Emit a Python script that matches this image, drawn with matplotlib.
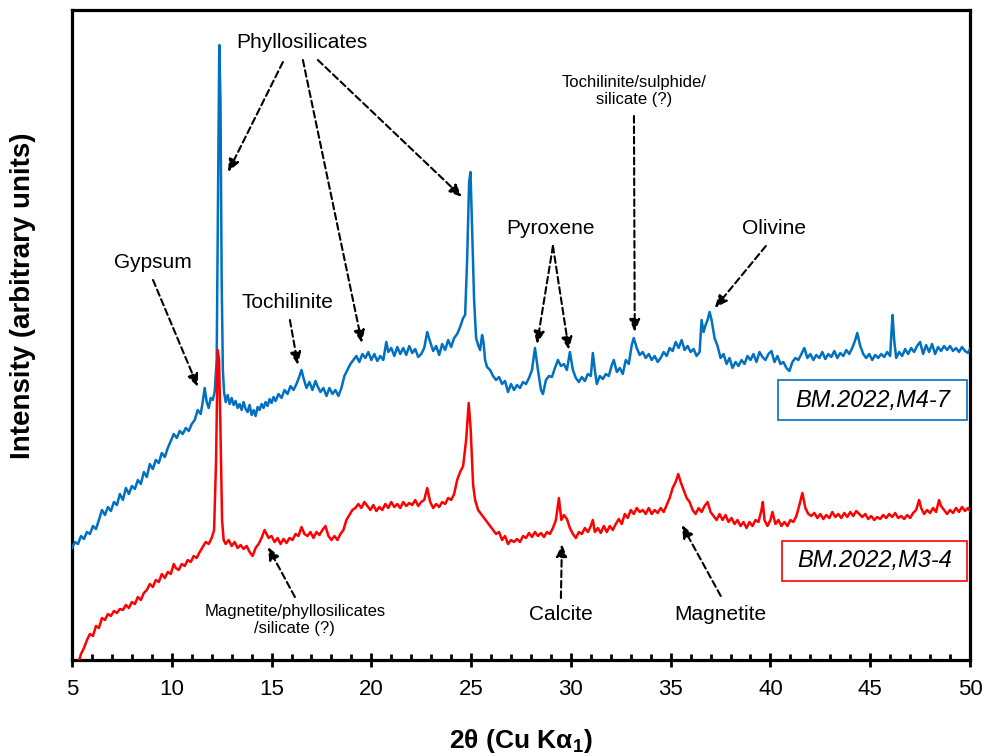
import matplotlib
matplotlib.use('Agg')
import matplotlib.pyplot as plt
from matplotlib.patches import Rectangle
from matplotlib.ticker import MultipleLocator

plt.rcParams['font.family'] = ['Liberation Sans', 'DejaVu Sans']
plt.rcParams['mathtext.fontset'] = 'custom'
plt.rcParams['mathtext.rm'] = 'Liberation Sans'
plt.rcParams['mathtext.bf'] = 'Liberation Sans:bold'

# ── data (intensity in arbitrary units) ──────────────────────────────────────
blue_theta = [
    5.00, 5.15, 5.30, 5.45, 5.60, 5.75, 5.90, 6.05, 6.20, 6.35,
    6.50, 6.65, 6.80, 6.95, 7.10, 7.25, 7.40, 7.55, 7.70, 7.85,
    8.00, 8.15, 8.30, 8.45, 8.60, 8.75, 8.90, 9.05, 9.20, 9.35,
    9.50, 9.65, 9.80, 9.95, 10.10, 10.25, 10.40, 10.55, 10.70, 10.85,
    11.00, 11.15, 11.30, 11.45, 11.55, 11.65, 11.75, 11.85, 11.95, 12.05,
    12.15, 12.25, 12.32, 12.38, 12.44, 12.50, 12.56, 12.62, 12.70, 12.80,
    12.90, 13.00, 13.10, 13.20, 13.30, 13.40, 13.50, 13.60, 13.70, 13.80,
    13.90, 14.00, 14.10, 14.20, 14.30, 14.40, 14.50, 14.60, 14.70, 14.80,
    14.90, 15.00, 15.10, 15.20, 15.35, 15.50, 15.65, 15.80, 15.95, 16.10,
    16.25, 16.40, 16.50, 16.60, 16.75, 16.90, 17.05, 17.20, 17.30, 17.45,
    17.60, 17.75, 17.90, 18.05, 18.20, 18.35, 18.50, 18.65, 18.80, 18.95,
    19.10, 19.25, 19.40, 19.55, 19.70, 19.85, 20.00, 20.15, 20.30, 20.45,
    20.60, 20.75, 20.85, 21.00, 21.15, 21.30, 21.45, 21.60, 21.75, 21.90,
    22.05, 22.20, 22.35, 22.50, 22.65, 22.80, 22.95, 23.10, 23.25, 23.40,
    23.55, 23.70, 23.85, 24.00, 24.15, 24.30, 24.45, 24.60, 24.70, 24.80,
    24.90, 24.97, 25.05, 25.15, 25.25, 25.35, 25.45, 25.55, 25.62, 25.70,
    25.80, 25.95, 26.10, 26.25, 26.40, 26.55, 26.70, 26.85, 27.00, 27.15,
    27.30, 27.45, 27.60, 27.75, 27.90, 28.05, 28.20, 28.35, 28.50, 28.60,
    28.75, 28.90, 29.05, 29.20, 29.35, 29.50, 29.65, 29.80, 29.95, 30.10,
    30.25, 30.40, 30.55, 30.70, 30.85, 31.00, 31.10, 31.20, 31.30, 31.45,
    31.60, 31.75, 31.90, 32.05, 32.15, 32.30, 32.45, 32.60, 32.75, 32.90,
    33.05, 33.15, 33.30, 33.45, 33.60, 33.75, 33.90, 34.05, 34.20, 34.35,
    34.50, 34.65, 34.80, 34.95, 35.10, 35.25, 35.40, 35.55, 35.70, 35.85,
    36.00, 36.15, 36.30, 36.45, 36.55, 36.65, 36.75, 36.85, 36.95, 37.05,
    37.20, 37.35, 37.50, 37.65, 37.80, 37.95, 38.10, 38.25, 38.40, 38.55,
    38.70, 38.85, 39.00, 39.15, 39.30, 39.45, 39.60, 39.75, 39.90, 40.05,
    40.20, 40.35, 40.50, 40.65, 40.80, 40.95, 41.10, 41.25, 41.40, 41.55,
    41.70, 41.85, 42.00, 42.15, 42.30, 42.45, 42.60, 42.75, 42.90, 43.05,
    43.20, 43.35, 43.50, 43.65, 43.80, 43.95, 44.10, 44.25, 44.35, 44.50,
    44.65, 44.80, 44.95, 45.10, 45.25, 45.40, 45.55, 45.70, 45.85, 46.00,
    46.07, 46.12, 46.20, 46.30, 46.45, 46.60, 46.75, 46.90, 47.05, 47.20,
    47.35, 47.50, 47.65, 47.80, 47.95, 48.10, 48.25, 48.40, 48.55, 48.70,
    48.85, 49.00, 49.15, 49.30, 49.45, 49.60, 49.75, 49.90, 50.00,
]
blue_int = [
    112, 118, 116, 124, 121, 128, 126, 134, 131, 140,
    150, 145, 153, 149, 158, 155, 166, 160, 172, 166,
    174, 171, 180, 176, 188, 183, 196, 191, 200, 197,
    207, 203, 212, 219, 226, 222, 229, 226, 232, 229,
    236, 240, 250, 246, 258, 272, 258, 252, 262, 260,
    268, 300, 470, 615, 560, 380, 290, 268, 258, 265,
    256, 262, 255, 259, 252, 256, 250, 258, 251, 248,
    255, 245, 250, 244, 253, 250, 256, 252, 258, 254,
    261, 257, 263, 259, 266, 262, 270, 266, 274, 270,
    276, 284, 290, 282, 272, 278, 270, 279, 274, 268,
    272, 264, 272, 266, 270, 264, 272, 284, 290, 296,
    300, 304, 298, 306, 302, 308, 300, 306, 299, 304,
    300, 318, 308, 312, 304, 313, 306, 312, 305, 314,
    307, 311, 303, 306, 312, 328, 318, 309, 314, 305,
    316, 310, 320, 313, 322, 326, 333, 342, 345, 400,
    478, 488, 430, 360, 322, 315, 310, 325, 318, 300,
    293, 290, 284, 280, 283, 276, 279, 268, 276, 270,
    275, 272, 278, 276, 282, 290, 312, 290, 270, 266,
    280, 284, 283, 292, 300, 294, 296, 290, 308, 290,
    282, 278, 283, 279, 286, 284, 307, 290, 276, 284,
    281, 286, 284, 295, 300, 288, 292, 286, 300, 296,
    315, 322, 312, 305, 308, 302, 306, 300, 304, 298,
    302, 308, 304, 312, 309, 318, 312, 320, 310, 314,
    308, 311, 304, 308, 340, 328, 335, 340, 348, 340,
    322, 314, 302, 306, 296, 302, 292, 298, 294, 300,
    296, 304, 300, 306, 298, 308, 303, 300, 306, 309,
    298, 304, 296, 298, 292, 289, 298, 302, 300, 306,
    312, 302, 306, 300, 305, 302, 308, 301, 306, 303,
    309, 302, 307, 304, 310, 306, 312, 320, 327, 314,
    306, 302, 306, 300, 305, 302, 306, 303, 308, 304,
    330, 345, 320, 302, 308, 304, 311, 306, 312, 308,
    314, 318, 306, 315, 308, 316, 306, 313, 309, 314,
    310, 314, 309, 312, 308, 313, 309, 307, 311,
]

red_theta = [
    5.30, 5.45, 5.60, 5.75, 5.90, 6.05, 6.20, 6.35, 6.50, 6.65,
    6.80, 6.95, 7.10, 7.25, 7.40, 7.55, 7.70, 7.85, 8.00, 8.15,
    8.30, 8.45, 8.60, 8.75, 8.90, 9.05, 9.20, 9.35, 9.50, 9.65,
    9.80, 9.95, 10.10, 10.20, 10.35, 10.50, 10.65, 10.80, 10.95, 11.10,
    11.25, 11.40, 11.55, 11.70, 11.85, 12.00, 12.12, 12.22, 12.30, 12.37,
    12.44, 12.52, 12.60, 12.70, 12.85, 13.00, 13.15, 13.30, 13.45, 13.60,
    13.75, 13.90, 14.05, 14.20, 14.35, 14.50, 14.65, 14.75, 14.85, 15.00,
    15.15, 15.30, 15.45, 15.60, 15.75, 15.90, 16.05, 16.20, 16.35, 16.50,
    16.65, 16.80, 16.95, 17.10, 17.25, 17.40, 17.55, 17.70, 17.85, 18.00,
    18.15, 18.30, 18.45, 18.60, 18.75, 18.90, 19.05, 19.20, 19.35, 19.50,
    19.65, 19.80, 19.95, 20.10, 20.25, 20.40, 20.55, 20.70, 20.85, 21.00,
    21.15, 21.30, 21.45, 21.60, 21.75, 21.90, 22.05, 22.20, 22.35, 22.50,
    22.65, 22.80, 22.95, 23.10, 23.25, 23.40, 23.55, 23.70, 23.85, 24.00,
    24.15, 24.30, 24.45, 24.60, 24.75, 24.88, 24.98, 25.10, 25.20, 25.35,
    25.50, 25.65, 25.80, 25.95, 26.10, 26.25, 26.40, 26.55, 26.70, 26.85,
    27.00, 27.15, 27.30, 27.45, 27.60, 27.75, 27.90, 28.05, 28.20, 28.35,
    28.50, 28.65, 28.80, 28.95, 29.10, 29.25, 29.40, 29.52, 29.65, 29.80,
    29.95, 30.10, 30.25, 30.40, 30.55, 30.70, 30.85, 31.00, 31.10, 31.20,
    31.35, 31.50, 31.65, 31.80, 31.95, 32.10, 32.25, 32.40, 32.55, 32.70,
    32.85, 33.00, 33.15, 33.30, 33.45, 33.60, 33.75, 33.90, 34.05, 34.20,
    34.35, 34.50, 34.65, 34.80, 34.95, 35.10, 35.25, 35.38, 35.50, 35.65,
    35.80, 35.95, 36.10, 36.25, 36.40, 36.55, 36.70, 36.85, 37.00, 37.15,
    37.30, 37.45, 37.60, 37.75, 37.90, 38.05, 38.20, 38.35, 38.50, 38.65,
    38.80, 38.95, 39.10, 39.25, 39.40, 39.55, 39.62, 39.70, 39.85, 40.00,
    40.10, 40.25, 40.40, 40.55, 40.70, 40.85, 41.00, 41.15, 41.30, 41.45,
    41.60, 41.75, 41.90, 42.05, 42.20, 42.35, 42.50, 42.65, 42.80, 42.95,
    43.10, 43.25, 43.40, 43.55, 43.70, 43.85, 44.00, 44.15, 44.30, 44.45,
    44.60, 44.75, 44.90, 45.05, 45.20, 45.35, 45.50, 45.65, 45.80, 45.95,
    46.10, 46.25, 46.40, 46.55, 46.70, 46.85, 47.00, 47.15, 47.30, 47.45,
    47.55, 47.70, 47.85, 48.00, 48.15, 48.30, 48.45, 48.55, 48.70, 48.85,
    49.00, 49.15, 49.30, 49.45, 49.60, 49.75, 49.90, 50.00,
]
red_int = [
    -4, 6, 12, 20, 26, 24, 34, 32, 42, 40,
    46, 44, 49, 47, 51, 50, 55, 52, 58, 56,
    63, 60, 67, 70, 76, 73, 80, 78, 86, 82,
    88, 86, 96, 92, 90, 96, 94, 100, 98, 104,
    102, 108, 113, 118, 116, 122, 130, 200, 310, 300,
    230, 140, 120, 116, 120, 114, 118, 112, 115, 111,
    114, 108, 104, 112, 116, 122, 130, 126, 122, 124,
    118, 122, 116, 121, 117, 122, 120, 126, 124, 133,
    126, 124, 128, 122, 128, 125, 130, 134, 124, 120,
    124, 120, 126, 130, 140, 145, 150, 152, 156, 152,
    158, 154, 150, 155, 149, 153, 150, 156, 152, 158,
    153, 156, 152, 158, 154, 157, 155, 160, 154, 158,
    160, 172, 158, 152, 156, 153, 158, 156, 162, 160,
    166, 180, 188, 194, 220, 257, 230, 175, 160, 150,
    146, 142, 138, 134, 130, 126, 128, 120, 124, 116,
    120, 118, 121, 118, 124, 122, 127, 123, 128, 124,
    127, 123, 128, 126, 132, 140, 162, 140, 145, 141,
    132, 126, 122, 128, 126, 132, 128, 134, 140, 128,
    132, 127, 134, 128, 134, 130, 136, 141, 136, 146,
    142, 150, 146, 152, 148, 150, 146, 152, 146, 150,
    147, 152, 148, 155, 162, 172, 178, 186, 178, 170,
    162, 158, 150, 146, 152, 148, 154, 158, 148, 144,
    140, 146, 140, 145, 138, 142, 136, 140, 134, 138,
    132, 138, 134, 140, 138, 150, 158, 140, 134, 140,
    148, 136, 140, 134, 138, 134, 140, 138, 144, 155,
    167, 152, 146, 144, 147, 142, 146, 141, 145, 142,
    148, 143, 146, 142, 147, 143, 148, 144, 149, 146,
    143, 146, 141, 144, 140, 143, 141, 145, 142, 146,
    143, 147, 142, 144, 141, 145, 142, 147, 150, 160,
    152, 146, 150, 147, 152, 148, 160, 154, 150, 146,
    150, 147, 152, 148, 153, 149, 152, 149,
]

sample_labels = ['BM.2022,M4-7', 'BM.2022,M3-4']

BLUE = '#0070C0'
RED = '#FF0000'

# ── figure ───────────────────────────────────────────────────────────────────
fig = plt.figure(figsize=(9.86, 7.56), dpi=100)
ax = fig.add_axes([72/986, 1 - 660/756, 898/986, 650/756])

ax.plot(blue_theta, blue_int, color=BLUE, lw=1.8, zorder=3)
ax.plot(red_theta, red_int, color=RED, lw=1.8, zorder=3)

ax.set_xlim(5, 50)
ax.set_ylim(0, 650)
ax.set_yticks([])
ax.xaxis.set_major_locator(MultipleLocator(5))
ax.xaxis.set_minor_locator(MultipleLocator(1))
ax.tick_params(axis='x', which='major', direction='inout', length=10,
               width=2.0, labelsize=16, pad=9)
ax.tick_params(axis='x', which='minor', direction='in', length=4.5, width=2.0)
for sp in ax.spines.values():
    sp.set_linewidth(2.3)

fig.text(521/986, 1 - 741/756, r'2θ (Cu Kα$_\mathbf{1}$)', fontsize=19,
         fontweight='bold', ha='center', va='center')
fig.text(23/986, 1 - 296/756, 'Intensity (arbitrary units)', fontsize=20,
         fontweight='bold', ha='center', va='center', rotation=90)

# ── annotations ──────────────────────────────────────────────────────────────
def darrow(x1, y1, x2, y2):
    ax.annotate('', xy=(x2, y2), xytext=(x1, y1),
                arrowprops=dict(arrowstyle='-|>,head_length=0.75,head_width=0.32',
                                linestyle=(0, (3.2, 1.8)), lw=1.5, color='black',
                                shrinkA=0, shrinkB=0), zorder=4)

def lbl(x, y, s, fs=15):
    ax.text(x, y, s, fontsize=fs, ha='center', va='center', zorder=5)

lbl(16.52, 617, 'Phyllosilicates')
darrow(15.57, 598, 12.82, 488)
darrow(16.57, 600, 19.53, 317)
darrow(17.32, 600, 24.54, 463)

lbl(9.06, 398, 'Gypsum')
darrow(9.06, 380, 11.31, 273)

lbl(15.82, 357, 'Tochilinite')
darrow(15.92, 340, 16.32, 295)

lbl(29.0, 431, 'Pyroxene')
darrow(29.1, 414, 28.30, 316)
darrow(29.1, 414, 29.90, 310)

lbl(33.16, 569, 'Tochilinite/sulphide/\nsilicate (?)', 12)
darrow(33.16, 544, 33.2, 328)

lbl(40.17, 431, 'Olivine')
darrow(39.77, 414, 37.21, 352)

lbl(16.17, 40, 'Magnetite/phyllosilicates\n/silicate (?)', 12)
darrow(16.17, 63, 14.82, 113)

lbl(29.5, 45, 'Calcite')
darrow(29.5, 62, 29.55, 116)

lbl(37.51, 45, 'Magnetite')
darrow(37.51, 64, 35.56, 135)

# ── sample boxes ─────────────────────────────────────────────────────────────
boxes = [(0.786, 0.369, BLUE), (0.791, 0.1215, RED)]
for (x0, y0, ec), name in zip(boxes, sample_labels):
    ax.add_patch(Rectangle((x0, y0), 0.9967 - x0, 0.062, transform=ax.transAxes,
                           facecolor='white', edgecolor=ec, lw=1.2, zorder=5))
    ax.text((x0 + 0.9967) / 2, y0 + 0.031, name, transform=ax.transAxes,
            fontsize=17, style='italic', ha='center', va='center', zorder=6)

fig.savefig('out.png', dpi=100, facecolor='white')
